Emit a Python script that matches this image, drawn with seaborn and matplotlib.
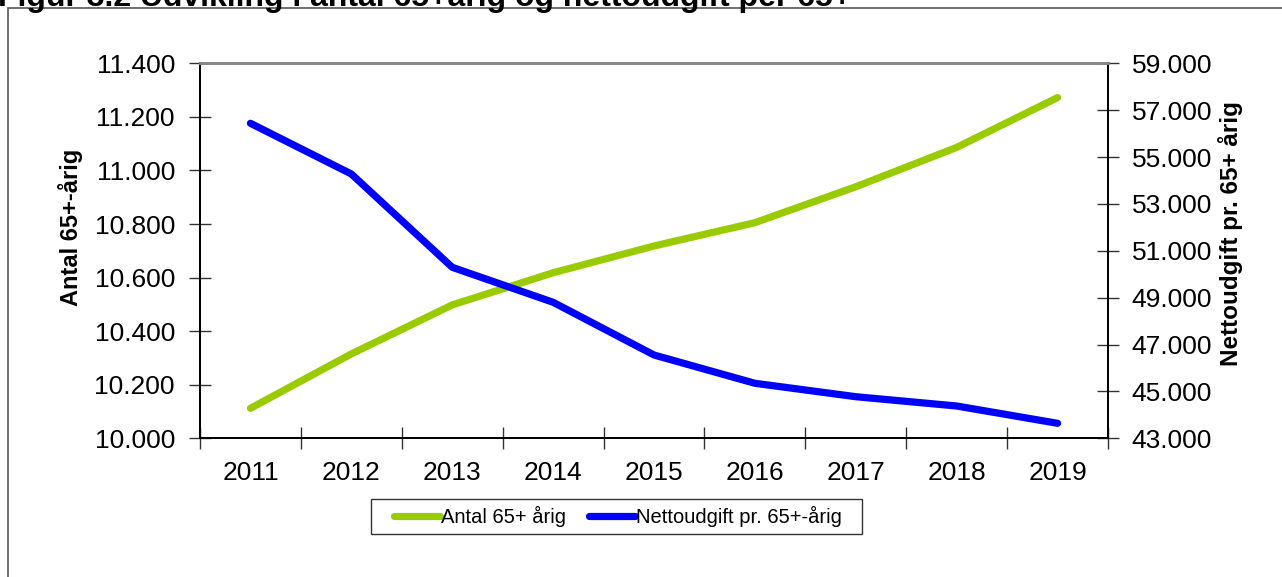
import matplotlib
matplotlib.use("Agg")
import matplotlib.pyplot as plt
import seaborn as sns
import pandas as pd
from matplotlib.ticker import FuncFormatter, FixedLocator
from matplotlib.patches import Rectangle
from matplotlib.lines import Line2D

years = [2011, 2012, 2013, 2014, 2015, 2016, 2017, 2018, 2019]
antal_65 = [10112, 10315, 10498, 10618, 10718, 10805, 10939, 11086, 11272]
netto_pr_65 = [56440, 54277, 50296, 48803, 46554, 45347, 44775, 44378, 43640]

label_antal = "Antal 65+ årig"
label_netto = "Nettoudgift pr. 65+-årig"
ylabel_left = "Antal 65+-årig"
ylabel_right = "Nettoudgift pr. 65+ årig"
title = "Figur 3.2 Udvikling i antal 65+årig og nettoudgift per 65+"

green = "#99CC00"
blue = "#0000FF"

sns.set_style("white")
plt.rcParams["font.family"] = ["Liberation Sans", "DejaVu Sans"]
plt.rcParams["text.color"] = "black"
plt.rcParams["axes.labelcolor"] = "black"
plt.rcParams["xtick.color"] = "black"
plt.rcParams["ytick.color"] = "black"

df = pd.DataFrame({"year": years, "antal": antal_65, "netto": netto_pr_65})

W, H = 1282, 577
fig = plt.figure(figsize=(W / 100, H / 100), dpi=100)
ax = fig.add_axes([200 / W, 1 - 438.3 / H, 908 / W, 375 / H])
ax2 = ax.twinx()

sns.lineplot(data=df, x="year", y="antal", ax=ax, color=green, linewidth=5.2,
             solid_capstyle="round", legend=False)
sns.lineplot(data=df, x="year", y="netto", ax=ax2, color=blue, linewidth=5.2,
             solid_capstyle="round", legend=False)

ax.set_xlim(years[0] - 0.5, years[-1] + 0.5)
ax.set_ylim(10000, 11400)
ax2.set_ylim(43000, 59000)
ax.set_yticks(range(10000, 11401, 200))
ax2.set_yticks(range(43000, 59001, 2000))
ax.set_xticks(years)
ax.set_xticklabels([str(y) for y in years])
ax.xaxis.set_minor_locator(FixedLocator([y - 0.5 for y in years] + [years[-1] + 0.5]))

fmt = FuncFormatter(lambda v, p: f"{int(v):,}".replace(",", "."))
ax.yaxis.set_major_formatter(fmt)
ax2.yaxis.set_major_formatter(fmt)

ax.tick_params(axis="y", which="major", direction="inout", length=16, width=1,
               color="#333333", labelcolor="black", labelsize=19, pad=10, left=True)
ax2.tick_params(axis="y", which="major", direction="inout", length=16, width=1,
                color="#333333", labelcolor="black", labelsize=19, pad=9, right=True)
ax.tick_params(axis="x", which="major", length=0, labelsize=19, pad=16,
               labelcolor="black")
ax.tick_params(axis="x", which="minor", direction="inout", length=16, width=1,
               color="#333333", bottom=True)
ax2.tick_params(axis="x", which="both", length=0)

ax.set_xlabel("")
ax.set_ylabel(ylabel_left, fontsize=17, fontweight="bold", color="black")
ax2.set_ylabel(ylabel_right, fontsize=17.5, fontweight="bold", color="black")
ax.yaxis.set_label_coords(-0.129, 0.562)
ax2.yaxis.set_label_coords(1.121, 0.545)

for a in (ax, ax2):
    for s in ("left", "right", "bottom"):
        a.spines[s].set_color("black")
        a.spines[s].set_linewidth(1.3)
    a.spines["top"].set_color("#888888")
    a.spines["top"].set_linewidth(2)

handles = [Line2D([], [], color=green, linewidth=5.2, solid_capstyle="round"),
           Line2D([], [], color=blue, linewidth=5.2, solid_capstyle="round")]
leg = fig.legend(handles, [label_antal, label_netto], loc="center",
                 bbox_to_anchor=(618 / W, 1 - 516.5 / H), ncol=2,
                 fontsize=14.5, frameon=False, labelcolor="black",
                 handlelength=2.3, handletextpad=0.05, columnspacing=1.1,
                 borderpad=0.3)

# legend box
fig.patches.append(Rectangle((371 / W, 1 - 534 / H), 491 / W, 35 / H,
                             transform=fig.transFigure, fill=False,
                             edgecolor="#333333", linewidth=1))
# outer frame
fig.patches.append(Rectangle((8 / W, -0.1), 1.2, 1 - 8 / H + 0.1,
                             transform=fig.transFigure, fill=False,
                             edgecolor="#555555", linewidth=1.2))
fig.text(-2 / W, 1 - 6 / H, title, fontsize=23, fontweight="bold",
         ha="left", va="baseline", color="black")

fig.savefig("out.png", dpi=100)
